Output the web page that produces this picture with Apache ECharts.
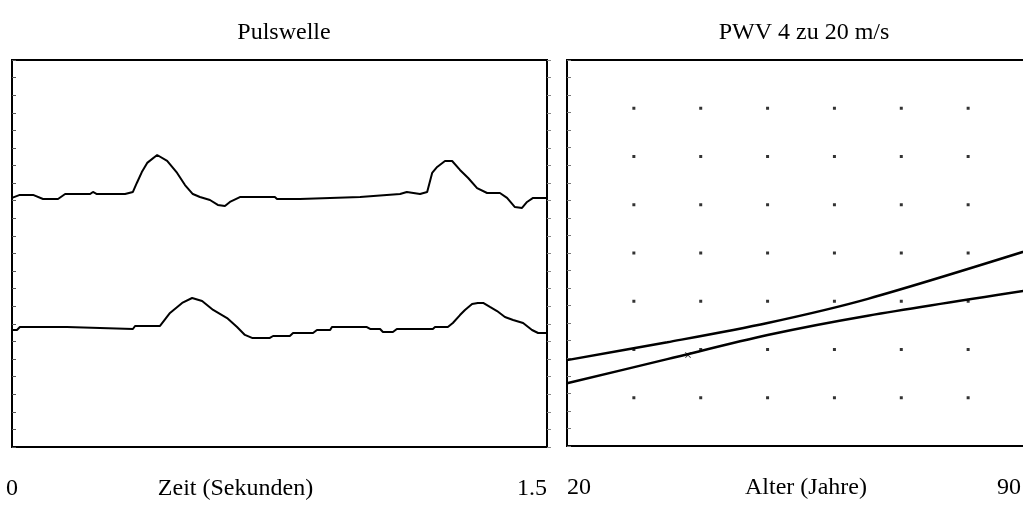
<!DOCTYPE html>
<html><head><meta charset="utf-8">
<script src="https://cdn.jsdelivr.net/npm/echarts@6/dist/echarts.min.js"></script>
<style>html,body{margin:0;padding:0;background:#fff}#c{width:1023px;height:505px}</style>
</head><body><div id="c"></div>
<script>
// ---- data ----
const titles = ['Pulswelle', 'PWV 4 zu 20 m/s'];
const axisNames = ['Zeit (Sekunden)', 'Alter (Jahre)'];
const timeTickLabels = ['0', '1.5'];
const ageTickLabels = ['20', '90'];
const pwvRange = [4, 20];
const dotAges = [30, 40, 50, 60, 70, 80];
const dotPwv = [6, 8, 10, 12, 14, 16, 18];

const pulseTimeUpper = [0,0.022,0.059,0.087,0.129,0.149,0.219,0.227,0.238,0.317,0.339,0.350,0.364,0.379,0.407,0.435,0.463,0.485,0.507,0.527,0.555,0.577,0.597,0.611,0.639,0.737,0.743,0.807,0.892,0.976,1.088,1.107,1.144,1.164,1.178,1.192,1.214,1.234,1.256,1.279,1.304,1.332,1.368,1.388,1.410,1.430,1.444,1.461,1.5];
const pulseAmpUpper = [14.16,14.33,14.33,14.10,14.10,14.38,14.38,14.50,14.38,14.38,14.50,15.01,15.63,16.15,16.60,16.26,15.58,14.89,14.38,14.21,14.04,13.76,13.70,13.93,14.21,14.21,14.10,14.10,14.16,14.21,14.38,14.50,14.38,14.50,15.58,15.92,16.26,16.26,15.75,15.29,14.72,14.44,14.44,14.16,13.64,13.59,13.93,14.16,14.16];

const pulseTimeLower = [0,0.014,0.022,0.154,0.157,0.339,0.345,0.415,0.443,0.477,0.505,0.533,0.564,0.603,0.631,0.653,0.673,0.723,0.732,0.779,0.788,0.844,0.855,0.892,0.897,0.995,1.004,1.032,1.040,1.068,1.079,1.180,1.186,1.222,1.236,1.256,1.270,1.290,1.306,1.321,1.340,1.360,1.382,1.405,1.433,1.458,1.475,1.5];
const pulseAmpLower = [6.65,6.65,6.82,6.82,6.71,6.71,6.88,6.88,7.62,8.19,8.47,8.30,7.79,7.33,6.82,6.37,6.20,6.20,6.31,6.31,6.48,6.48,6.65,6.65,6.82,6.82,6.71,6.71,6.54,6.54,6.71,6.71,6.82,6.82,7.05,7.50,7.79,8.13,8.19,8.19,7.96,7.73,7.39,7.22,7.05,6.65,6.48,6.48];

const ages = [20, 35, 50, 65, 90];
const pwvUpper = [7.56, 8.3, 9.1, 10.1, 12.2];
const pwvLower = [6.6, 7.6, 8.6, 9.4, 10.5];
const markerAge = [38.1];
const markerPwv = [7.77];

// ---- build ----
const zip = (a, b) => a.map((v, i) => [v, b[i]]);
const dots = [];
dotAges.forEach(a => dotPwv.forEach(p => dots.push([a, p])));

const serif = 'Liberation Serif';
const FS = 24;
const L = {left: 12, top: 60, width: 535, height: 387};
const R = {left: 567, top: 60, width: 468, height: 386};

const labelFmt = (arr, min, max) => v => (v === min ? arr[0] : (v === max ? arr[1] : ''));
const gridBase = {show: true, borderColor: '#000', borderWidth: 2, backgroundColor: 'transparent', containLabel: false, outerBoundsMode: 'none'};

const chart = echarts.init(document.getElementById('c'), null, {renderer: 'canvas'});
chart.setOption({
  backgroundColor: '#fff',
  animation: false,
  title: [
    {text: titles[0], left: 279, top: 16, textAlign: 'center', textStyle: {fontFamily: serif, fontSize: FS, fontWeight: 'normal', color: '#000'}},
    {text: titles[1], left: 799, top: 16, textAlign: 'center', textStyle: {fontFamily: serif, fontSize: FS, fontWeight: 'normal', color: '#000'}}
  ],
  grid: [
    Object.assign({}, gridBase, L),
    Object.assign({}, gridBase, R)
  ],
  xAxis: [
    {type: 'value', gridIndex: 0, min: 0, max: 1.5, interval: 1.5,
     axisLine: {show: false}, axisTick: {show: false}, splitLine: {show: false},
     axisLabel: {margin: 30, fontFamily: serif, fontSize: FS, color: '#000', formatter: labelFmt(timeTickLabels, 0, 1.5), alignMaxLabel: 'right', showMinLabel: true, showMaxLabel: true},
     name: axisNames[0], nameLocation: 'middle', nameGap: 30, nameMoveOverlap: false,
     nameTextStyle: {fontFamily: serif, fontSize: FS, color: '#000', padding: [0, 88, 0, 0]}},
    {type: 'value', gridIndex: 1, min: 20, max: 90, interval: 70,
     axisLine: {show: false}, axisTick: {show: false}, splitLine: {show: false},
     axisLabel: {margin: 30, fontFamily: serif, fontSize: FS, color: '#000', formatter: labelFmt(ageTickLabels, 20, 90), alignMinLabel: 'left', alignMaxLabel: 'right', padding: [0, 14, 0, 0], showMinLabel: true, showMaxLabel: true},
     name: axisNames[1], nameLocation: 'middle', nameGap: 30, nameMoveOverlap: false,
     nameTextStyle: {fontFamily: serif, fontSize: FS, color: '#000', padding: [0, 0, 0, 10]}}
  ],
  yAxis: [
    {type: 'value', gridIndex: 0, min: 0, max: 22, interval: 1,
     axisLine: {show: false}, axisLabel: {show: false}, splitLine: {show: false},
     axisTick: {show: true, inside: true, length: 4, lineStyle: {color: '#555', width: 1}}},
    {type: 'value', gridIndex: 1, min: pwvRange[0], max: pwvRange[1], interval: 2,
     axisLine: {show: false}, axisLabel: {show: false}, splitLine: {show: false}, axisTick: {show: false}},
    {type: 'value', gridIndex: 0, position: 'right', min: 0, max: 22, interval: 1,
     axisLine: {show: false}, axisLabel: {show: false}, splitLine: {show: false},
     axisTick: {show: true, inside: false, length: 4, lineStyle: {color: '#888', width: 1}}},
    {type: 'value', gridIndex: 1, position: 'left', min: 0, max: 22, interval: 1,
     axisLine: {show: false}, axisLabel: {show: false}, splitLine: {show: false},
     axisTick: {show: true, inside: true, length: 4, lineStyle: {color: '#777', width: 1}}}
  ],
  series: [
    {type: 'line', xAxisIndex: 0, yAxisIndex: 0, data: zip(pulseTimeUpper, pulseAmpUpper), symbol: 'none', lineStyle: {color: '#000', width: 2}},
    {type: 'line', xAxisIndex: 0, yAxisIndex: 0, data: zip(pulseTimeLower, pulseAmpLower), symbol: 'none', lineStyle: {color: '#000', width: 2}},
    {type: 'scatter', xAxisIndex: 1, yAxisIndex: 1, data: dots, symbol: 'rect', symbolSize: 3, itemStyle: {color: '#000'}},
    {type: 'line', xAxisIndex: 1, yAxisIndex: 1, data: zip(ages, pwvUpper), symbol: 'none', smooth: 0.3, lineStyle: {color: '#000', width: 2.5}},
    {type: 'line', xAxisIndex: 1, yAxisIndex: 1, data: zip(ages, pwvLower), symbol: 'none', smooth: 0.3, lineStyle: {color: '#000', width: 2.5}},
    {type: 'scatter', xAxisIndex: 1, yAxisIndex: 1, data: zip(markerAge, markerPwv), symbol: 'path://M0,1L1,0L5,4L9,0L10,1L6,5L10,9L9,10L5,6L1,10L0,9L4,5Z', symbolSize: 6, itemStyle: {color: '#000'}}
  ]
});
</script>
</body></html>
